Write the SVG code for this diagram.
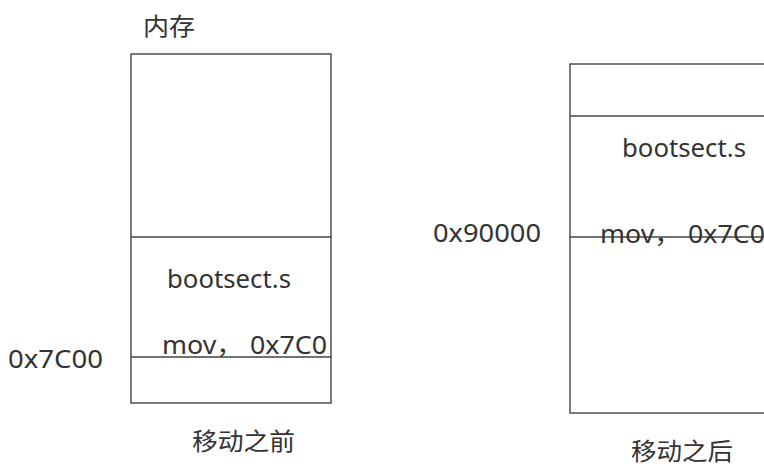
<svg xmlns="http://www.w3.org/2000/svg" width="764" height="467" viewBox="0 0 764 467">
<style>
.box{fill:#fff;stroke:#444;stroke-width:1.4}
.ln{stroke:#444;stroke-width:1.4}
.t{font-family:"Noto Sans","Liberation Sans","Noto Sans CJK SC",sans-serif;fill:#333;font-size:25px}
.c{font-family:"Noto Sans CJK SC","Noto Sans",sans-serif;fill:#333;font-size:24px}
</style>
<rect width="764" height="467" fill="#fff"/>
<g id="before">
<rect class="box" x="131" y="54" width="200" height="349"/>
<line class="ln" x1="131" y1="237" x2="331" y2="237"/>
<line class="ln" x1="131" y1="357" x2="331" y2="357"/>
<text class="c" x="143" y="35" textLength="52" lengthAdjust="spacingAndGlyphs">内存</text>
<text class="t" x="167" y="288" textLength="124" lengthAdjust="spacingAndGlyphs">bootsect.s</text>
<text class="t" x="162" y="354" textLength="165" lengthAdjust="spacingAndGlyphs">mov， 0x7C0</text>
<text class="t" x="8" y="368" textLength="95" lengthAdjust="spacingAndGlyphs">0x7C00</text>
<text class="c" x="192" y="450" textLength="103" lengthAdjust="spacingAndGlyphs">移动之前</text>
</g>
<g id="after">
<rect class="box" x="570" y="64" width="220" height="349"/>
<line class="ln" x1="570" y1="116" x2="790" y2="116"/>
<line class="ln" x1="570" y1="237" x2="790" y2="237"/>
<text class="t" x="622" y="157" textLength="124" lengthAdjust="spacingAndGlyphs">bootsect.s</text>
<text class="t" x="600" y="243" textLength="165" lengthAdjust="spacingAndGlyphs">mov， 0x7C0</text>
<text class="t" x="433" y="242" textLength="108" lengthAdjust="spacingAndGlyphs">0x90000</text>
<text class="c" x="631" y="460" textLength="102" lengthAdjust="spacingAndGlyphs">移动之后</text>
</g>
</svg>
